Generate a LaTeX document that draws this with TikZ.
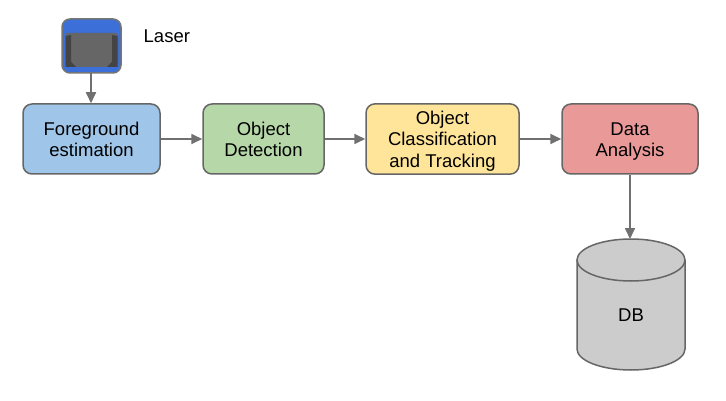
\documentclass[tikz,border=0pt]{standalone}
\usepackage{fontspec}
\setmainfont{Liberation Sans}
\usetikzlibrary{arrows.meta}
\definecolor{edge}{HTML}{666666}
\definecolor{arrowc}{HTML}{707070}
\definecolor{bluebox}{HTML}{9FC5E8}
\definecolor{greenbox}{HTML}{B6D7A8}
\definecolor{yellowbox}{HTML}{FFE599}
\definecolor{redbox}{HTML}{EA9999}
\definecolor{dbgrey}{HTML}{CCCCCC}
\definecolor{iconblue}{HTML}{3C6FD8}
\definecolor{icongrey}{HTML}{666666}
\definecolor{icondark}{HTML}{444444}
\newcommand\firstln{\rule{0pt}{20.4pt}}
\tikzset{
  procbox/.style={draw=edge,line width=1.5pt,rounded corners=9pt,minimum height=70pt,align=center,inner sep=0pt,font=\fontsize{18.5}{21.7}\selectfont},
  flow/.style={draw=arrowc,line width=1.7pt,-{Triangle[length=11pt,width=10pt,fill=arrowc]}},
  plain/.style={font=\fontsize{18.5}{22}\selectfont,inner sep=0pt}
}
\begin{document}
\begin{tikzpicture}[x=1pt,y=-1pt]
\useasboundingbox (0,0) rectangle (726,401);
\fill[white] (0,0) rectangle (726,401);
% laser icon
\node[draw=none,minimum width=59pt,minimum height=54pt,inner sep=0pt] (laser) at (91,46) {};
\begin{scope}
\clip[rounded corners=8pt] (62,19) rectangle (121,73);
\fill[iconblue] (62,19) rectangle (121,73);
\fill[icongrey,rounded corners=3pt] (65,33) rectangle (118,67);
\fill[icondark] (65.5,36) -- (71,35) -- (71,62) -- (76,67) -- (65.5,67) -- cycle;
\fill[icondark] (117.5,36) -- (112,35) -- (112,62) -- (107,67) -- (117.5,67) -- cycle;
\end{scope}
\draw[edge!90!white,line width=1.5pt,rounded corners=8pt] (62,19) rectangle (121,73);
\node[plain,anchor=west] (lasertext) at (143.5,36) {Laser};
% boxes
\node[procbox,fill=bluebox,minimum width=137pt] (fg) at (91.5,139) {\firstln\strut Foreground\\\strut estimation};
\node[procbox,fill=greenbox,minimum width=121pt] (det) at (263.5,139) {\firstln\strut Object\\\strut Detection};
\node[procbox,fill=yellowbox,minimum width=153pt] (cls) at (442.5,139) {\firstln\strut Object\\\strut Classification\\\strut and Tracking};
\node[procbox,fill=redbox,minimum width=136pt] (ana) at (630,139) {\firstln\strut Data\\\strut Analysis};
% database
\fill[dbgrey] (577,260) -- (577,349) arc[start angle=180,end angle=360,x radius=54,y radius=-21] -- (685,260) -- cycle;
\draw[edge,line width=1.5pt] (577,260) -- (577,349) arc[start angle=180,end angle=360,x radius=54,y radius=-21] -- (685,260);
\draw[edge,line width=1.5pt,fill=dbgrey] (631,260) ellipse[x radius=54,y radius=21];
\node[plain,minimum width=108pt,minimum height=42pt] (db) at (631,315) {DB};
\coordinate (dbtop) at (630,239);
% connectors
\draw[flow] (laser.south) -- (fg.north -| laser.south);
\draw[flow] (fg.east) -- (det.west);
\draw[flow] (det.east) -- (cls.west);
\draw[flow] (cls.east) -- (ana.west);
\draw[flow] (ana.south) -- (dbtop);
\end{tikzpicture}
\end{document}
